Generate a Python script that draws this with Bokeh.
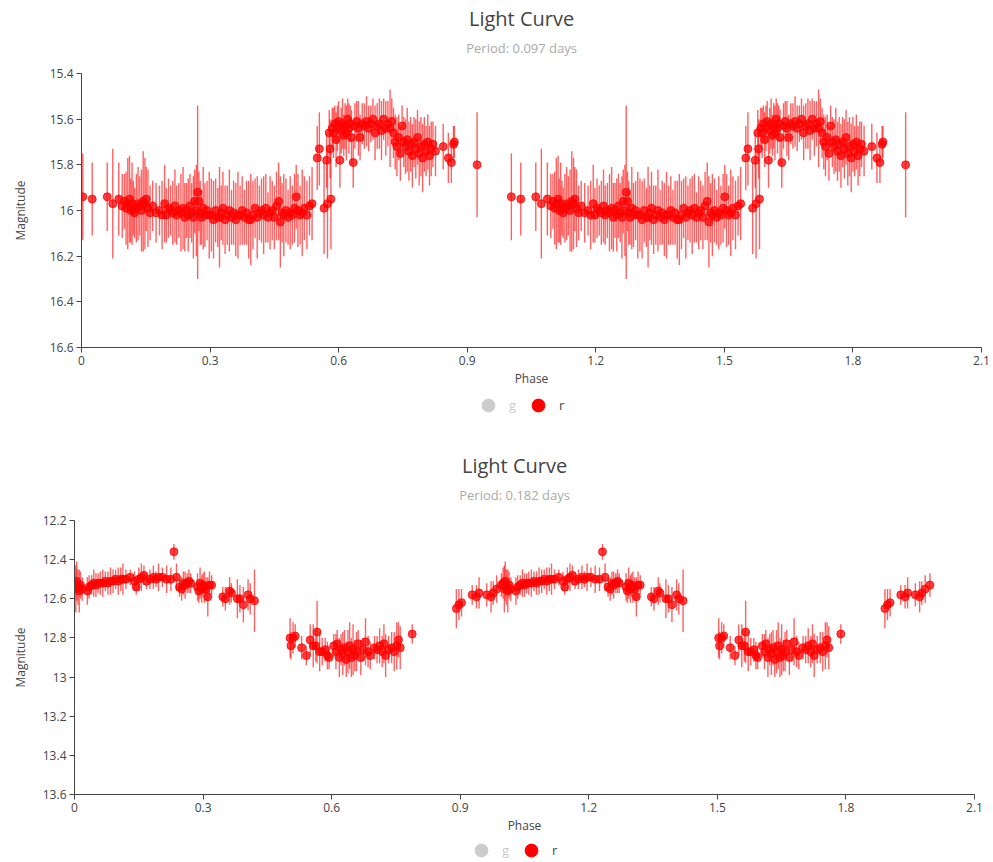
from bokeh.plotting import figure
from bokeh.layouts import column
from bokeh.models import (Range1d, FixedTicker, CustomJSTickFormatter,
                          Legend, LegendItem)
from bokeh.core.properties import value
from bokeh.embed import file_html
from bokeh.resources import INLINE

# ---------------- data: chart 1 (period 0.097 d) ----------------
title_text = "Light Curve"
period_1 = "Period: 0.097 days"
phase_1 = [
    0.003, 0.025, 0.060, 0.073, 0.087, 0.095, 0.100, 0.104, 0.108, 0.112,
    0.115, 0.118, 0.121, 0.124, 0.128, 0.132, 0.136, 0.140, 0.144, 0.148,
    0.151, 0.155, 0.160, 0.166, 0.174, 0.182, 0.188, 0.194, 0.198, 0.203,
    0.208, 0.213, 0.218, 0.222, 0.227, 0.232, 0.237, 0.241, 0.245, 0.249,
    0.253, 0.257, 0.261, 0.264, 0.268, 0.271, 0.274, 0.277, 0.280, 0.284,
    0.288, 0.293, 0.298, 0.303, 0.308, 0.313, 0.318, 0.322, 0.326, 0.330,
    0.335, 0.340, 0.345, 0.350, 0.355, 0.360, 0.365, 0.370, 0.375, 0.380,
    0.385, 0.390, 0.395, 0.400, 0.405, 0.410, 0.415, 0.420, 0.425, 0.430,
    0.435, 0.440, 0.445, 0.450, 0.455, 0.460, 0.464, 0.468, 0.472, 0.477,
    0.482, 0.487, 0.492, 0.497, 0.501, 0.505, 0.510, 0.515, 0.520, 0.526,
    0.532, 0.538, 0.550, 0.555, 0.566, 0.572, 0.574, 0.578, 0.580, 0.582,
    0.585, 0.588, 0.591, 0.594, 0.597, 0.600, 0.603, 0.606, 0.609, 0.612,
    0.615, 0.618, 0.621, 0.624, 0.627, 0.630, 0.634, 0.638, 0.642, 0.646,
    0.650, 0.655, 0.660, 0.665, 0.670, 0.675, 0.680, 0.685, 0.690, 0.695,
    0.700, 0.705, 0.710, 0.715, 0.720, 0.724, 0.728, 0.732, 0.736, 0.740,
    0.744, 0.748, 0.752, 0.756, 0.760, 0.764, 0.768, 0.772, 0.776, 0.780,
    0.784, 0.788, 0.792, 0.796, 0.800, 0.804, 0.808, 0.812, 0.816, 0.820,
    0.826, 0.844, 0.856, 0.863, 0.868, 0.870, 0.923,
]
mag_1 = [
    15.94, 15.95, 15.94, 15.97, 15.95, 15.98, 15.96, 15.99, 15.97, 15.95,
    16.00, 15.97, 15.99, 16.01, 15.99, 15.97, 15.98, 16.00, 15.96, 15.97,
    15.95, 15.99, 16.01, 15.98, 16.01, 16.00, 16.02, 15.97, 16.02, 15.99,
    16.00, 16.01, 15.98, 16.02, 16.00, 16.01, 15.99, 16.03, 16.00, 16.02,
    15.98, 16.01, 16.03, 15.96, 16.00, 15.92, 15.96, 16.01, 16.03, 15.99,
    16.02, 16.00, 16.02, 16.02, 16.04, 16.00, 16.03, 16.03, 16.01, 15.99,
    16.04, 16.02, 16.00, 16.03, 16.01, 16.04, 16.02, 16.02, 16.00, 16.03,
    16.01, 16.04, 16.04, 16.02, 15.99, 16.03, 16.01, 16.00, 16.02, 15.99,
    16.03, 16.01, 16.00, 16.03, 15.98, 15.96, 16.05, 16.01, 16.02, 16.00,
    16.03, 16.01, 16.02, 15.99, 15.94, 16.00, 16.02, 16.01, 15.99, 16.02,
    15.98, 15.97, 15.77, 15.73, 15.99, 15.78, 15.97, 15.66, 15.73, 15.95,
    15.64, 15.66, 15.62, 15.69, 15.64, 15.61, 15.78, 15.65, 15.62, 15.67,
    15.63, 15.66, 15.60, 15.64, 15.62, 15.68, 15.79, 15.63, 15.61, 15.64,
    15.68, 15.62, 15.63, 15.61, 15.64, 15.62, 15.60, 15.66, 15.63, 15.62,
    15.65, 15.60, 15.64, 15.62, 15.64, 15.61, 15.66, 15.70, 15.72, 15.68,
    15.75, 15.63, 15.70, 15.72, 15.69, 15.74, 15.71, 15.76, 15.70, 15.73,
    15.68, 15.75, 15.72, 15.77, 15.71, 15.74, 15.70, 15.76, 15.73, 15.71,
    15.74, 15.72, 15.77, 15.79, 15.71, 15.70, 15.80,
]
err_1 = [
    0.19, 0.16, 0.15, 0.24, 0.16, 0.14, 0.12, 0.16, 0.20, 0.19,
    0.14, 0.18, 0.12, 0.11, 0.15, 0.16, 0.13, 0.18, 0.22, 0.20,
    0.14, 0.17, 0.12, 0.11, 0.13, 0.11, 0.15, 0.17, 0.12, 0.13,
    0.11, 0.14, 0.16, 0.13, 0.12, 0.17, 0.18, 0.15, 0.12, 0.16,
    0.14, 0.13, 0.18, 0.14, 0.20, 0.38, 0.13, 0.14, 0.12, 0.18,
    0.14, 0.13, 0.19, 0.16, 0.17, 0.14, 0.13, 0.22, 0.12, 0.16,
    0.15, 0.13, 0.18, 0.12, 0.14, 0.16, 0.19, 0.13, 0.15, 0.12,
    0.14, 0.17, 0.20, 0.15, 0.13, 0.18, 0.12, 0.14, 0.17, 0.15,
    0.11, 0.16, 0.13, 0.14, 0.15, 0.17, 0.20, 0.13, 0.18, 0.14,
    0.12, 0.16, 0.13, 0.15, 0.14, 0.16, 0.13, 0.19, 0.14, 0.15,
    0.13, 0.16, 0.14, 0.16, 0.20, 0.12, 0.24, 0.10, 0.13, 0.22,
    0.09, 0.11, 0.08, 0.12, 0.10, 0.09, 0.12, 0.10, 0.11, 0.09,
    0.10, 0.12, 0.09, 0.11, 0.08, 0.12, 0.11, 0.10, 0.09, 0.12,
    0.10, 0.09, 0.10, 0.11, 0.10, 0.08, 0.09, 0.12, 0.10, 0.11,
    0.13, 0.09, 0.12, 0.10, 0.17, 0.10, 0.11, 0.12, 0.13, 0.10,
    0.12, 0.09, 0.11, 0.12, 0.14, 0.13, 0.12, 0.14, 0.11, 0.13,
    0.12, 0.14, 0.13, 0.15, 0.12, 0.11, 0.12, 0.13, 0.12, 0.10,
    0.11, 0.10, 0.11, 0.09, 0.08, 0.07, 0.23,
]
y_ticks_1 = [15.4, 15.6, 15.8, 16.0, 16.2, 16.4, 16.6]

# ---------------- data: chart 2 (period 0.182 d) ----------------
period_2 = "Period: 0.182 days"
phase_2 = [
    0.000, 0.003, 0.005, 0.008, 0.011, 0.014, 0.018, 0.030, 0.034, 0.040,
    0.045, 0.050, 0.055, 0.060, 0.066, 0.072, 0.078, 0.084, 0.090, 0.096,
    0.102, 0.108, 0.113, 0.120, 0.130, 0.140, 0.144, 0.150, 0.156, 0.162,
    0.168, 0.176, 0.184, 0.190, 0.196, 0.205, 0.215, 0.225, 0.232, 0.238,
    0.245, 0.250, 0.254, 0.258, 0.263, 0.267, 0.271, 0.287, 0.290, 0.293,
    0.297, 0.300, 0.303, 0.307, 0.311, 0.315, 0.320, 0.346, 0.352, 0.362,
    0.366, 0.380, 0.386, 0.394, 0.405, 0.410, 0.420, 0.503, 0.505, 0.510,
    0.515, 0.530, 0.541, 0.550, 0.557, 0.563, 0.566, 0.572, 0.578, 0.585,
    0.590, 0.594, 0.605, 0.610, 0.613, 0.618, 0.622, 0.626, 0.630, 0.634,
    0.638, 0.642, 0.646, 0.650, 0.654, 0.658, 0.662, 0.668, 0.674, 0.679,
    0.685, 0.690, 0.700, 0.706, 0.712, 0.718, 0.722, 0.726, 0.733, 0.740,
    0.746, 0.752, 0.756, 0.760, 0.788, 0.891, 0.897, 0.903, 0.928, 0.938,
    0.944, 0.962, 0.972, 0.977, 0.985, 0.996,
]
mag_2 = [
    12.52, 12.55, 12.51, 12.54, 12.56, 12.53, 12.55, 12.56, 12.54, 12.53,
    12.52, 12.53, 12.52, 12.52, 12.52, 12.51, 12.52, 12.51, 12.51, 12.50,
    12.51, 12.50, 12.50, 12.50, 12.49, 12.51, 12.54, 12.50, 12.49, 12.48,
    12.51, 12.50, 12.49, 12.50, 12.49, 12.49, 12.50, 12.50, 12.36, 12.49,
    12.54, 12.55, 12.52, 12.53, 12.52, 12.51, 12.52, 12.54, 12.56, 12.52,
    12.55, 12.53, 12.54, 12.55, 12.59, 12.53, 12.53, 12.59, 12.60, 12.56,
    12.57, 12.60, 12.60, 12.63, 12.58, 12.60, 12.61, 12.80, 12.84, 12.80,
    12.79, 12.85, 12.89, 12.81, 12.84, 12.84, 12.77, 12.87, 12.87, 12.86,
    12.89, 12.90, 12.84, 12.87, 12.83, 12.90, 12.86, 12.88, 12.85, 12.91,
    12.87, 12.84, 12.90, 12.86, 12.89, 12.87, 12.83, 12.90, 12.86, 12.82,
    12.87, 12.89, 12.85, 12.86, 12.84, 12.87, 12.83, 12.89, 12.86, 12.85,
    12.87, 12.84, 12.81, 12.85, 12.78, 12.65, 12.63, 12.62, 12.58, 12.59,
    12.57, 12.58, 12.59, 12.57, 12.55, 12.53,
]
err_2 = [
    0.08, 0.12, 0.10, 0.09, 0.11, 0.07, 0.06, 0.07, 0.06, 0.05,
    0.07, 0.06, 0.05, 0.06, 0.07, 0.05, 0.06, 0.07, 0.06, 0.05,
    0.07, 0.06, 0.08, 0.05, 0.04, 0.05, 0.04, 0.06, 0.07, 0.05,
    0.04, 0.05, 0.06, 0.04, 0.07, 0.05, 0.07, 0.06, 0.04, 0.07,
    0.05, 0.06, 0.06, 0.07, 0.05, 0.06, 0.05, 0.07, 0.06, 0.08,
    0.07, 0.06, 0.08, 0.06, 0.10, 0.07, 0.05, 0.05, 0.06, 0.07,
    0.05, 0.10, 0.07, 0.09, 0.08, 0.08, 0.16, 0.10, 0.07, 0.08,
    0.06, 0.06, 0.05, 0.08, 0.11, 0.08, 0.16, 0.10, 0.07, 0.06,
    0.07, 0.06, 0.06, 0.09, 0.07, 0.10, 0.08, 0.11, 0.09, 0.09,
    0.11, 0.12, 0.10, 0.13, 0.08, 0.10, 0.07, 0.09, 0.06, 0.12,
    0.08, 0.07, 0.06, 0.07, 0.09, 0.08, 0.10, 0.11, 0.07, 0.08,
    0.10, 0.12, 0.09, 0.11, 0.05, 0.10, 0.08, 0.07, 0.05, 0.06,
    0.08, 0.06, 0.08, 0.06, 0.07, 0.06,
]
y_ticks_2 = [12.2, 12.4, 12.6, 12.8, 13.0, 13.2, 13.4, 13.6]

x_ticks = [0, 0.3, 0.6, 0.9, 1.2, 1.5, 1.8, 2.1]
bands = ["g", "r"]

FONT = "Open Sans"
RED = "#ff0000"
W = 993


def blank_fig(height):
    f = figure(width=W, height=height, output_backend="svg", toolbar_location=None,
               x_range=Range1d(0, 1), y_range=Range1d(0, height),
               x_axis_location=None, y_axis_location=None,
               min_border=0, min_border_left=0, min_border_right=0,
               min_border_top=0, min_border_bottom=0)
    f.grid.visible = False
    f.outline_line_color = None
    return f


def make_title(height, subtitle):
    # title strip: texts placed in pixels measured from the strip's bottom edge
    tf = blank_fig(height)
    tf.text(x=[0.489], y=[45], text=[title_text], text_align="center",
            text_baseline="middle", text_font=value(FONT), text_font_size="20px",
            text_color="#444444")
    tf.text(x=[0.489], y=[16], text=[subtitle], text_align="center",
            text_baseline="middle", text_font=value(FONT), text_font_size="13px",
            text_color="#aaaaaa")
    return tf


def make_chart(phase, mag, err, y_ticks, height, borders, ylab_standoff):
    left, right, top, bottom = borders
    # folded light curve shown over two cycles
    xs = list(phase) + [p + 1 for p in phase]
    ys = list(mag) + list(mag)
    es = list(err) + list(err)
    p = figure(width=W, height=height, output_backend="svg", toolbar_location=None,
               x_range=Range1d(0, 2.1), y_range=Range1d(y_ticks[-1], y_ticks[0]),
               min_border_left=left, min_border_right=right,
               min_border_top=top, min_border_bottom=bottom)
    p.outline_line_color = None
    p.xgrid.visible = False
    p.ygrid.visible = False

    p.segment(x0=xs, y0=[y - e for y, e in zip(ys, es)],
              x1=xs, y1=[y + e for y, e in zip(ys, es)],
              line_color=RED, line_alpha=0.62, line_width=1.4)
    p.scatter(x=xs, y=ys, size=8, fill_color=RED, line_color=RED,
              fill_alpha=0.75, line_alpha=0.75)

    fmt = CustomJSTickFormatter(code="return String(Number(tick.toFixed(2)));")
    for ax, ticks in ((p.xaxis[0], x_ticks), (p.yaxis[0], y_ticks)):
        ax.ticker = FixedTicker(ticks=ticks)
        ax.formatter = fmt
        ax.minor_tick_line_color = None
        ax.major_tick_in = 0
        ax.major_tick_out = 5
        ax.axis_line_color = "#444444"
        ax.major_tick_line_color = "#444444"
        ax.major_label_text_color = "#444444"
        ax.major_label_text_font = FONT
        ax.major_label_text_font_size = "12px"
        ax.axis_label_text_font = FONT
        ax.axis_label_text_font_size = "12px"
        ax.axis_label_text_font_style = "normal"
        ax.axis_label_text_color = "#444444"
        ax.major_label_standoff = 3
    p.xaxis.axis_label = "Phase"
    p.yaxis.axis_label = "Magnitude"
    p.xaxis.axis_label_standoff = 2
    p.yaxis.axis_label_standoff = ylab_standoff
    return p


def make_legend(height, left_px, bottom_px):
    lf = blank_fig(height)
    # legend-only renderers (their single point lies outside the visible range)
    rg = lf.scatter(x=[-5], y=[-5], size=16, fill_color="#555555", line_color="#555555")
    rr = lf.scatter(x=[-5], y=[-5], size=16, fill_color=RED, line_color=RED)
    rg.visible = False
    leg = Legend(items=[LegendItem(label=bands[0], renderers=[rg]),
                        LegendItem(label=bands[1], renderers=[rr])],
                 orientation="horizontal", location=(left_px, bottom_px),
                 click_policy="hide", border_line_color=None,
                 background_fill_alpha=0, label_text_font=FONT,
                 label_text_font_size="13px", label_text_color="#444444",
                 glyph_width=32, glyph_height=32, label_standoff=5,
                 label_width=8, spacing=5, padding=0, margin=0)
    lf.add_layout(leg)
    return lf


t1 = make_title(63, period_1)
p1 = make_chart(phase_1, mag_1, err_1, y_ticks_1, 329, (81, 12, 10, 45), 18)
l1 = make_legend(39, 391, 10)

t2 = make_title(79, period_2)
p2 = make_chart(phase_2, mag_2, err_2, y_ticks_2, 328, (74, 19, 10, 44), 11)
l2 = make_legend(24, 391, -4)

top_block = column(t1, p1, l1, spacing=0)
bottom_block = column(t2, p2, l2, spacing=0)
open("out.html", "w").write(file_html([top_block, bottom_block], INLINE))
